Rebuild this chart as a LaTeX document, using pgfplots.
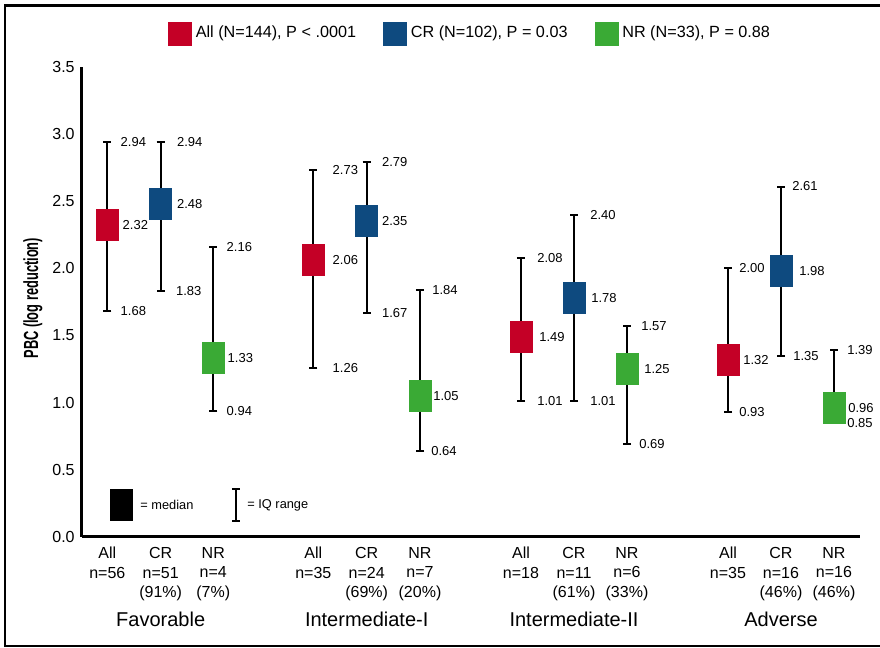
\documentclass[border=0pt]{standalone}
\usepackage{graphicx}
\usepackage{pgfplots}
\pgfplotsset{compat=1.18}
\usepackage{pgfplotstable}
\usepackage{fontspec}
\setmainfont{Liberation Sans}
\definecolor{cred}{RGB}{196,0,38}
\definecolor{cblue}{RGB}{14,74,127}
\definecolor{cgreen}{RGB}{58,170,53}
\pgfdeclareplotmark{medbox}{\pgfpathrectangle{\pgfpoint{-5.75pt}{-8pt}}{\pgfpoint{11.5pt}{16pt}}\pgfusepathqfill}
\pgfplotsset{myerr/.style={error bars/.cd, y dir=both, y explicit,
  error bar style={black, line width=1pt},
  error mark options={black, line width=1pt, mark size=2pt, rotate=90}}}

\pgfplotstableread{
x med hi lo
25.3 2.32 2.94 1.68
231.3 2.06 2.73 1.26
439 1.49 2.08 1.01
646 1.32 2.00 0.93
}\allt
\pgfplotstableread{
x med hi lo
78.7 2.48 2.94 1.83
284.7 2.35 2.79 1.67
492 1.78 2.40 1.01
699 1.98 2.61 1.35
}\crt
\pgfplotstableread{
x med hi lo
131.3 1.33 2.16 0.94
338 1.05 1.84 0.64
545 1.25 1.57 0.69
752 0.96 1.39 0.85
}\nrt
\pgfplotstableread{
x v lab dx
25.3 2.94 2.94 6.5
25.3 2.32 2.32 7.5
25.3 1.68 1.68 6.5
78.7 2.94 2.94 8
78.7 2.48 2.48 8
78.7 1.83 1.83 7.5
131.3 2.16 2.16 6.5
131.3 1.33 1.33 7
131.3 0.94 0.94 6.5
231.3 2.73 2.73 9.5
231.3 2.06 2.06 9.5
231.3 1.26 1.26 9.5
284.7 2.79 2.79 7.5
284.7 2.35 2.35 7.5
284.7 1.67 1.67 7.5
338 1.84 1.84 6
338 1.05 1.05 6.5
338 0.64 0.64 5.5
439 2.08 2.08 8
439 1.49 1.49 9
439 1.01 1.01 8
492 2.40 2.40 8
492 1.78 1.78 8.5
492 1.01 1.01 8
545 1.57 1.57 7
545 1.25 1.25 8.5
545 0.69 0.69 6
646 2.00 2.00 5.5
646 1.32 1.32 7.5
646 0.93 0.93 5.5
699 2.61 2.61 5.5
699 1.98 1.98 9
699 1.35 1.35 6
752 1.39 1.39 6.5
752 0.96 0.96 7
752 0.85 0.85 6.5
}\labs

\begin{document}
\begin{tikzpicture}
\useasboundingbox (0,0) rectangle (440pt,324pt);
\draw[line width=1.2pt] (440pt,321.25pt) -- (2.5pt,321.25pt) -- (2.5pt,1pt) -- (440pt,1pt);
\begin{axis}[
  at={(41pt,55.5pt)}, anchor=south west,
  scale only axis, width=389pt, height=235pt,
  xmin=0, xmax=778, ymin=0, ymax=3.5,
  axis x line=bottom, axis y line=left,
  axis line style={-, line width=1.5pt},
  major tick length=0pt, tick style={draw=none},
  ytick={0,0.5,1,1.5,2,2.5,3,3.5},
  yticklabel style={/pgf/number format/fixed, /pgf/number format/fixed zerofill, /pgf/number format/precision=1, /pgf/number format/assume math mode=true},
  yticklabel style={font=\fontsize{8}{9.6}\selectfont, inner sep=0pt, xshift=-3.5pt},
  xtick={25.3,78.7,131.3,231.3,284.7,338,439,492,545,646,699,752},
  xticklabels={{All\\n=56},{CR\\n=51\\(91\%)},{NR\\n=4\\(7\%)},{All\\n=35},{CR\\n=24\\(69\%)},{NR\\n=7\\(20\%)},{All\\n=18},{CR\\n=11\\(61\%)},{NR\\n=6\\(33\%)},{All\\n=35},{CR\\n=16\\(46\%)},{NR\\n=16\\(46\%)}},
  xticklabel style={align=center, font=\fontsize{8}{9.75}\selectfont, inner sep=0pt, anchor=north, yshift=-5pt},
  ylabel={\scalebox{0.63}[1]{\bfseries PBC (log reduction)}},
  ylabel style={at={(axis description cs:-0.063,0.508)}, anchor=center, font=\fontsize{10.2}{12}\selectfont},
  legend style={at={(0.5,1.0713)}, anchor=center, draw=none, fill=none,
    font=\fontsize{8.1}{9.6}\selectfont,
    /tikz/every even column/.append style={column sep=11.5pt}},
  legend columns=3, legend cell align=left,
  clip=false,
]
\addplot[only marks, mark=medbox, color=cred,
  legend image code/.code={\fill[cred] (0pt,-5.75pt) rectangle (11.5pt,5.75pt);},
  myerr]
  table[x=x, y=med, y error plus expr=\thisrow{hi}-\thisrow{med}, y error minus expr=\thisrow{med}-\thisrow{lo}] {\allt};
\addlegendentry{All (N=144), P < .0001}
\addplot[only marks, mark=medbox, color=cblue,
  legend image code/.code={\fill[cblue] (0pt,-5.75pt) rectangle (11.5pt,5.75pt);},
  myerr]
  table[x=x, y=med, y error plus expr=\thisrow{hi}-\thisrow{med}, y error minus expr=\thisrow{med}-\thisrow{lo}] {\crt};
\addlegendentry{CR (N=102), P = 0.03}
\addplot[only marks, mark=medbox, color=cgreen,
  legend image code/.code={\fill[cgreen] (0pt,-5.75pt) rectangle (11.5pt,5.75pt);},
  myerr]
  table[x=x, y=med, y error plus expr=\thisrow{hi}-\thisrow{med}, y error minus expr=\thisrow{med}-\thisrow{lo}] {\nrt};
\addlegendentry{NR (N=33), P = 0.88}
% value labels
\addplot[draw=none, mark=none, forget plot,
  visualization depends on={\thisrow{dx}\as\dx},
  nodes near coords, point meta=explicit symbolic,
  nodes near coords style={anchor=west, inner sep=0pt, xshift=\dx pt, font=\fontsize{6.5}{7.8}\selectfont, text=black}]
  table[x=x, y=v, meta=lab] {\labs};
% key
\addplot[only marks, mark=medbox, color=black, forget plot] coordinates {(39.5,0.238)};
\addplot[draw=none, mark=none, forget plot, myerr]
  coordinates {(154,0.238) +- (0,0.119)};
\node[anchor=west, inner sep=0pt, font=\fontsize{6.4}{7.7}\selectfont] at (axis cs:58,0.238) {= median};
\node[anchor=west, inner sep=0pt, font=\fontsize{6.4}{7.7}\selectfont] at (axis cs:165,0.238) {= IQ range};
% group labels
\node[anchor=base, yshift=-45pt, font=\fontsize{10}{12}\selectfont] at (axis cs:78.7,0) {Favorable};
\node[anchor=base, yshift=-45pt, font=\fontsize{10}{12}\selectfont] at (axis cs:284.7,0) {Intermediate-I};
\node[anchor=base, yshift=-45pt, font=\fontsize{10}{12}\selectfont] at (axis cs:492,0) {Intermediate-II};
\node[anchor=base, yshift=-45pt, font=\fontsize{10}{12}\selectfont] at (axis cs:699,0) {Adverse};
\end{axis}
\end{tikzpicture}
\end{document}
